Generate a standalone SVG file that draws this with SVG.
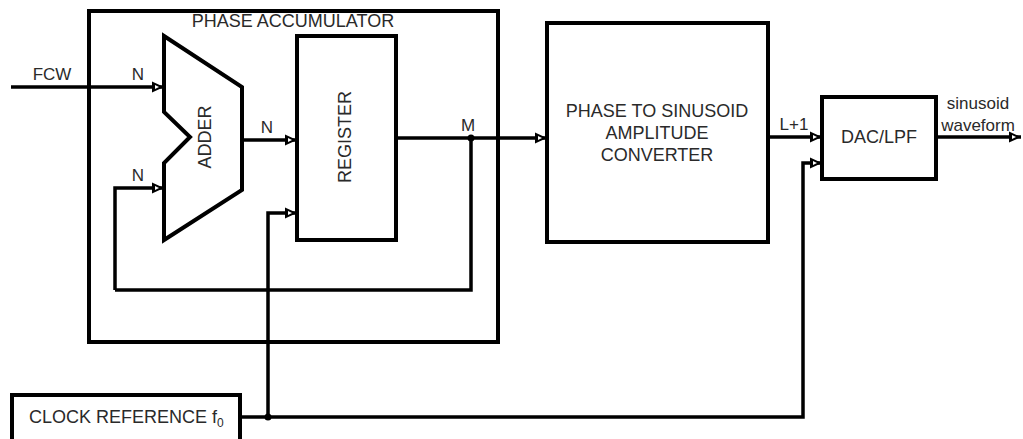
<svg xmlns="http://www.w3.org/2000/svg" width="1023" height="439" viewBox="0 0 1023 439">
<style>
.box{fill:#fff;stroke:#000;stroke-width:4}
.ln{fill:none;stroke:#000;stroke-width:3.5;stroke-linejoin:miter}
.t{font-family:"Liberation Sans",Arial,sans-serif;font-size:18px;fill:#2a2a2a}
.ts{font-family:"Liberation Sans",Arial,sans-serif;font-size:17px;fill:#2a2a2a}
</style>
<defs>
<marker id="ar" markerUnits="userSpaceOnUse" markerWidth="16" markerHeight="14" viewBox="0 0 16 14" refX="15" refY="7" orient="auto">
<path d="M3,1.5 L15,7 L3,12.5 Z" fill="#000"/>
<path d="M6,5 L10,7 L6,9 Z" fill="#fff"/>
</marker>
</defs>
<rect width="1023" height="439" fill="#fff"/>
<g id="phase-accumulator">
<rect class="box" x="89" y="11" width="409" height="331" fill="none"/>
<text class="t" x="293" y="27" text-anchor="middle">PHASE ACCUMULATOR</text>
</g>
<g id="adder">
<path class="box" d="M164,36 L242,87 L242,190 L164,240 L164,163 L190,137 L164,112 Z"/>
<text class="t" transform="translate(211,137) rotate(-90)" text-anchor="middle">ADDER</text>
</g>
<g id="register">
<rect class="box" x="297" y="36" width="99" height="204"/>
<text class="t" transform="translate(351,137) rotate(-90)" text-anchor="middle">REGISTER</text>
</g>
<g id="converter">
<rect class="box" x="547" y="23" width="221" height="219"/>
<text class="t" text-anchor="middle"><tspan x="657" y="117">PHASE TO SINUSOID</tspan><tspan x="657" y="139">AMPLITUDE</tspan><tspan x="657" y="161">CONVERTER</tspan></text>
</g>
<g id="dac">
<rect class="box" x="822" y="97" width="114" height="82"/>
<text class="t" x="879" y="143" text-anchor="middle">DAC/LPF</text>
</g>
<g id="clock">
<rect class="box" x="12" y="395" width="228" height="50"/>
<text class="t" x="29" y="423">CLOCK REFERENCE f<tspan font-size="12" dy="4">0</tspan></text>
</g>
<g id="connectors">
<path class="ln" d="M11,87 L164,87" marker-end="url(#ar)"/>
<path class="ln" d="M115,290 L115,188 L164,188" marker-end="url(#ar)"/>
<path class="ln" d="M242,140 L297,140" marker-end="url(#ar)"/>
<path class="ln" d="M268,417 L268,213 L297,213" marker-end="url(#ar)"/>
<path class="ln" d="M396,138 L547,138" marker-end="url(#ar)"/>
<path class="ln" d="M471,138 L471,290 L115,290"/>
<path class="ln" d="M768,137 L822,137" marker-end="url(#ar)"/>
<path class="ln" d="M240,417 L803,417 L803,163 L822,163" marker-end="url(#ar)"/>
<path class="ln" d="M936,137 L1021,137" marker-end="url(#ar)"/>
<circle cx="471" cy="138" r="3.5" fill="#000"/>
<circle cx="268" cy="417" r="3.5" fill="#000"/>
<text class="ts" x="52" y="80" text-anchor="middle">FCW</text>
<text class="ts" x="138" y="80" text-anchor="middle">N</text>
<text class="ts" x="138" y="181" text-anchor="middle">N</text>
<text class="ts" x="267" y="133" text-anchor="middle">N</text>
<text class="ts" x="468" y="131" text-anchor="middle">M</text>
<text class="ts" x="794" y="130" text-anchor="middle">L+1</text>
<text class="ts" x="978" y="109" text-anchor="middle">sinusoid</text>
<text class="ts" x="978" y="131" text-anchor="middle">waveform</text>
</g>
</svg>
